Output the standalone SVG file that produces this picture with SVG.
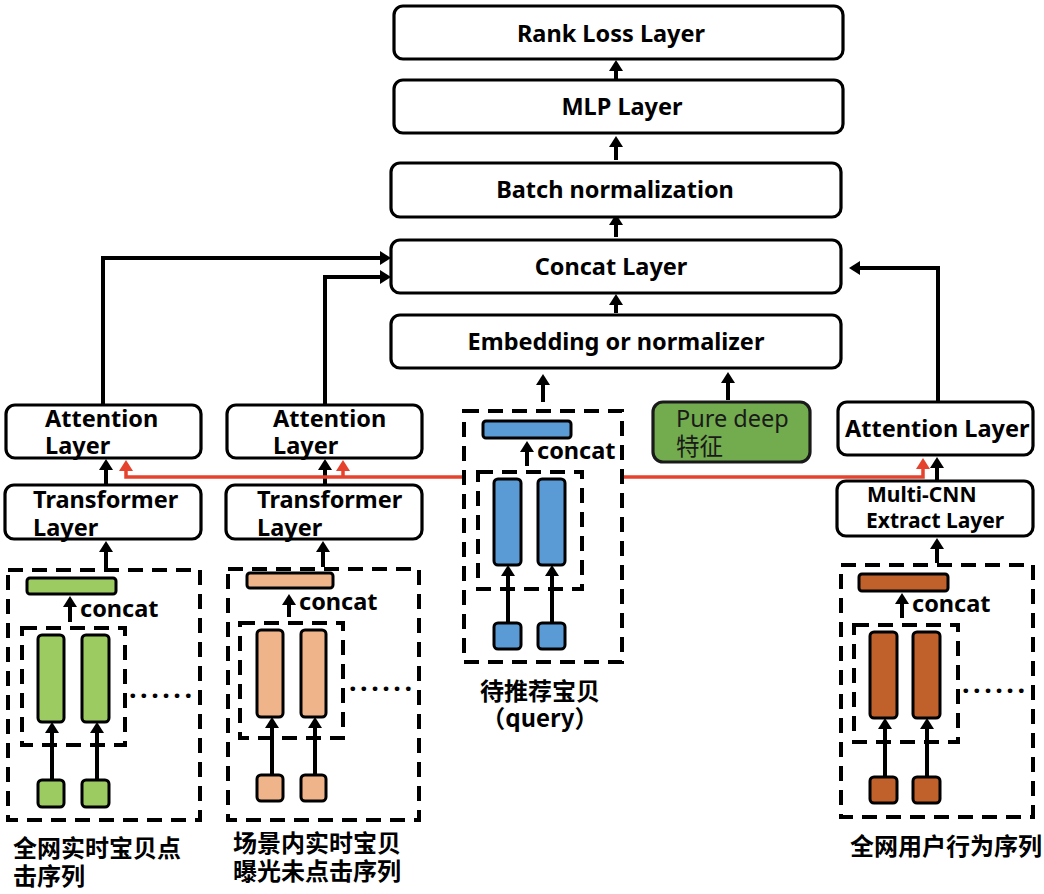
<svg xmlns="http://www.w3.org/2000/svg" width="1044" height="894" viewBox="0 0 1044 894">
<style>
.box{fill:#fff;stroke:#000;stroke-width:3.2}
.dash{fill:none;stroke:#000;stroke-width:4;stroke-dasharray:15 9}
.t{font-family:"Noto Sans","Open Sans","Noto Sans CJK SC",sans-serif;font-weight:bold;font-size:23.5px;fill:#000}
.tc{text-anchor:middle}
.cn{font-family:"Noto Sans CJK SC","Noto Sans",sans-serif;font-weight:bold;font-size:24px;fill:#000}
.dots{font-family:"Noto Sans",sans-serif;font-weight:bold;font-size:27px;letter-spacing:3.5px;fill:#000}
.emb{stroke:#000;stroke-width:3}
.g{fill:#9CCB62}.o{fill:#F0B48A}.b{fill:#5B9BD5}.d{fill:#C0612C}
.ar{fill:none;stroke:#000;stroke-width:4}
.rd{fill:none;stroke:#E5432D;stroke-width:3.5}
</style>
<defs>
<marker id="ah" markerUnits="userSpaceOnUse" markerWidth="12" markerHeight="14" refX="2" refY="7" orient="auto" viewBox="0 0 12 14">
<path d="M0,0 L11,7 L0,14 z" fill="#000"/>
</marker>
<marker id="rh" markerUnits="userSpaceOnUse" markerWidth="12" markerHeight="14" refX="2" refY="7" orient="auto" viewBox="0 0 12 14">
<path d="M0,0 L11,7 L0,14 z" fill="#E5432D"/>
</marker>
</defs>

<g id="connectors">
<path class="ar" d="M616,79 V69" marker-end="url(#ah)"/>
<path class="ar" d="M616,160 V145" marker-end="url(#ah)"/>
<path class="ar" d="M616,237 V223" marker-end="url(#ah)"/>
<path class="ar" d="M616,313 V303" marker-end="url(#ah)"/>
<path class="ar" d="M543,402 V383" marker-end="url(#ah)"/>
<path class="ar" d="M728,400 V381" marker-end="url(#ah)"/>
<path class="ar" d="M103,405 V258 H382" marker-end="url(#ah)"/>
<path class="ar" d="M325,405 V277 H382" marker-end="url(#ah)"/>
<path class="ar" d="M938,402 V268 H858" marker-end="url(#ah)"/>
<path class="ar" d="M106,485 V468" marker-end="url(#ah)"/>
<path class="ar" d="M325,485 V468" marker-end="url(#ah)"/>
<path class="ar" d="M937,482 V466" marker-end="url(#ah)"/>
<path class="ar" d="M106,568 V550" marker-end="url(#ah)"/>
<path class="ar" d="M323,567 V550" marker-end="url(#ah)"/>
<path class="ar" d="M937,563 V547" marker-end="url(#ah)"/>
<path class="ar" d="M70,622 V605" marker-end="url(#ah)"/>
<path class="ar" d="M289,617 V603" marker-end="url(#ah)"/>
<path class="ar" d="M902,618 V602" marker-end="url(#ah)"/>
<path class="ar" d="M527,466 V450" marker-end="url(#ah)"/>
<path class="ar" d="M52,780 V731" marker-end="url(#ah)"/>
<path class="ar" d="M97,780 V731" marker-end="url(#ah)"/>
<path class="ar" d="M272,775 V726" marker-end="url(#ah)"/>
<path class="ar" d="M315,775 V726" marker-end="url(#ah)"/>
<path class="ar" d="M885,777 V727" marker-end="url(#ah)"/>
<path class="ar" d="M927,777 V727" marker-end="url(#ah)"/>
<path class="ar" d="M508,623 V574" marker-end="url(#ah)"/>
<path class="ar" d="M552,623 V574" marker-end="url(#ah)"/>
<path class="rd" d="M462,477 H126 V469" marker-end="url(#rh)"/>
<path class="rd" d="M343,477 V469" marker-end="url(#rh)"/>
<path class="rd" d="M620,477 H923 V467" marker-end="url(#rh)"/>
</g>

<g id="rank-loss"><rect class="box" x="394" y="6" width="449" height="53" rx="9"/><text class="t tc" x="611" y="42">Rank Loss Layer</text></g>
<g id="mlp"><rect class="box" x="394" y="80" width="449" height="53" rx="9"/><text class="t tc" x="622" y="115">MLP Layer</text></g>
<g id="batch-norm"><rect class="box" x="391" y="163" width="450" height="54" rx="9"/><text class="t tc" x="615" y="198">Batch normalization</text></g>
<g id="concat-layer"><rect class="box" x="391" y="240" width="450" height="53" rx="9"/><text class="t tc" x="611" y="275">Concat Layer</text></g>
<g id="embedding"><rect class="box" x="391" y="315" width="450" height="53" rx="9"/><text class="t tc" x="616" y="350">Embedding or normalizer</text></g>

<g id="attention-1"><rect class="box" x="6" y="405" width="195" height="53" rx="9"/><text class="t" x="45" y="427">Attention<tspan x="45" y="454">Layer</tspan></text></g>
<g id="attention-2"><rect class="box" x="227" y="405" width="195" height="53" rx="9"/><text class="t" x="273" y="427">Attention<tspan x="273" y="454">Layer</tspan></text></g>
<g id="attention-3"><rect class="box" x="838" y="402" width="195" height="53" rx="9"/><text class="t" x="845" y="437">Attention Layer</text></g>

<g id="transformer-1"><rect class="box" x="5" y="485" width="196" height="54" rx="9"/><text class="t" x="33" y="508">Transformer<tspan x="33" y="536">Layer</tspan></text></g>
<g id="transformer-2"><rect class="box" x="226" y="485" width="196" height="54" rx="9"/><text class="t" x="257" y="508">Transformer<tspan x="257" y="536">Layer</tspan></text></g>
<g id="multi-cnn"><rect class="box" x="837" y="481" width="196" height="55" rx="9"/><text class="t" x="867" y="502" style="font-size:21px">Multi-CNN<tspan x="866" y="528">Extract Layer</tspan></text></g>

<g id="pure-deep"><rect x="653" y="402" width="157" height="60" rx="10" fill="#72AC4E" stroke="#1a1a1a" stroke-width="3.2"/><text x="676" y="427" style="font-family:'Noto Sans','Noto Sans CJK SC',sans-serif;font-size:23.5px;fill:#1a1a1a">Pure deep<tspan x="676" y="455" style="font-family:'Noto Sans CJK SC',sans-serif">特征</tspan></text></g>

<g id="seq-1">
<rect class="dash" x="8" y="570" width="192" height="250"/>
<rect class="emb g" x="27" y="578" width="89" height="16" rx="3"/>
<text class="t" x="80" y="617">concat</text>
<rect class="dash" x="22" y="628" width="103" height="117"/>
<rect class="emb g" x="38" y="635" width="26" height="87" rx="4"/>
<rect class="emb g" x="82" y="635" width="27" height="87" rx="4"/>
<rect class="emb g" x="38" y="780" width="26" height="27" rx="4"/>
<rect class="emb g" x="82" y="780" width="27" height="27" rx="4"/>
<text class="dots" x="129" y="698">......</text>
<text class="cn" x="13" y="857">全网实时宝贝点<tspan x="13" y="885">击序列</tspan></text>
</g>

<g id="seq-2">
<rect class="dash" x="228" y="569" width="191" height="251"/>
<rect class="emb o" x="247" y="573" width="86" height="15" rx="3"/>
<text class="t" x="299" y="610">concat</text>
<rect class="dash" x="240" y="623" width="103" height="115"/>
<rect class="emb o" x="257" y="630" width="26" height="87" rx="4"/>
<rect class="emb o" x="301" y="630" width="25" height="87" rx="4"/>
<rect class="emb o" x="257" y="775" width="26" height="26" rx="4"/>
<rect class="emb o" x="301" y="775" width="25" height="26" rx="4"/>
<text class="dots" x="349" y="691">......</text>
<text class="cn" x="233" y="852">场景内实时宝贝<tspan x="233" y="880">曝光未点击序列</tspan></text>
</g>

<g id="query">
<rect class="dash" x="464" y="411" width="158" height="251"/>
<rect class="emb b" x="483" y="421" width="88" height="17" rx="3"/>
<text class="t" x="537" y="459">concat</text>
<rect class="dash" x="478" y="472" width="104" height="117"/>
<rect class="emb b" x="494" y="479" width="27" height="86" rx="4"/>
<rect class="emb b" x="538" y="479" width="27" height="86" rx="4"/>
<rect class="emb b" x="494" y="623" width="27" height="26" rx="4"/>
<rect class="emb b" x="538" y="623" width="27" height="26" rx="4"/>
<text class="cn tc" x="540" y="700">待推荐宝贝<tspan x="540" y="727">（query）</tspan></text>
</g>

<g id="seq-3">
<rect class="dash" x="841" y="565" width="192" height="252"/>
<rect class="emb d" x="859" y="574" width="89" height="17" rx="3"/>
<text class="t" x="912" y="612">concat</text>
<rect class="dash" x="854" y="625" width="104" height="117"/>
<rect class="emb d" x="870" y="632" width="27" height="86" rx="4"/>
<rect class="emb d" x="913" y="632" width="27" height="86" rx="4"/>
<rect class="emb d" x="870" y="777" width="27" height="26" rx="4"/>
<rect class="emb d" x="913" y="777" width="27" height="26" rx="4"/>
<text class="dots" x="962" y="693">......</text>
<text class="cn" x="850" y="855">全网用户行为序列</text>
</g>
</svg>
